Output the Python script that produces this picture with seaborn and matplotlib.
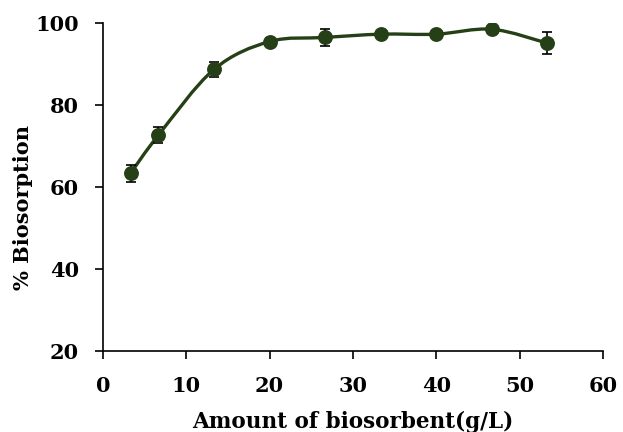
import numpy as np
import pandas as pd
import matplotlib
matplotlib.use("Agg")
import matplotlib.pyplot as plt
from matplotlib.path import Path
from matplotlib.patches import PathPatch
import seaborn as sns

# Dados
dose = [3.33, 6.67, 13.33, 20.0, 26.67, 33.33, 40.0, 46.67, 53.33]
biosorcao = [63.3, 72.6, 88.6, 95.4, 96.4, 97.2, 97.2, 98.4, 95.0]
erro = [2.0, 2.0, 1.8, 0.8, 2.1, 0.8, 0.8, 0.9, 2.7]

df = pd.DataFrame({"dose": dose, "bio": biosorcao, "err": erro})

sns.set_theme(style="ticks")
plt.rcParams['font.family'] = ['DejaVu Serif']
plt.rcParams['font.weight'] = 'bold'
plt.rcParams['text.color'] = 'black'
plt.rcParams['axes.labelcolor'] = 'black'

cor = "#253f16"

fig = plt.figure(figsize=(6.23, 4.32), dpi=100)
ax = fig.add_axes([0.165, 0.1875, 0.803, 0.76])

# Linha suavizada (estilo Excel, Catmull-Rom -> Bezier)
pts = df[["dose", "bio"]].to_numpy()
verts = [pts[0]]
codes = [Path.MOVETO]
for i in range(len(pts) - 1):
    p0 = pts[i - 1] if i > 0 else pts[i]
    p1 = pts[i]
    p2 = pts[i + 1]
    p3 = pts[i + 2] if i + 2 < len(pts) else pts[i + 1]
    c1 = p1 + (p2 - p0) / 6
    c2 = p2 - (p3 - p1) / 6
    verts += [c1, c2, p2]
    codes += [Path.CURVE4] * 3
ax.add_patch(PathPatch(Path(verts, codes), facecolor="none", edgecolor=cor, lw=2.4, zorder=2))

ax.errorbar(df["dose"], df["bio"], yerr=df["err"], fmt="none", ecolor="black",
            elinewidth=1.2, capsize=3.5, capthick=1.2, zorder=3)
sns.scatterplot(data=df, x="dose", y="bio", ax=ax, color=cor, s=115,
                edgecolor=cor, linewidth=0, zorder=4)

ax.set_xlim(0, 60)
ax.set_ylim(20, 100)
ax.set_xticks(range(0, 61, 10))
ax.set_yticks(range(20, 101, 20))
ax.tick_params(axis="both", direction="out", length=6, width=1.2,
               labelsize=15, colors="black")
ax.tick_params(axis="x", pad=12)
ax.tick_params(axis="y", pad=11)
for lab in ax.get_xticklabels() + ax.get_yticklabels():
    lab.set_fontweight("bold")

ax.set_xlabel("Amount of biosorbent(g/L)", fontsize=15.5, fontweight="bold")
ax.set_ylabel("% Biosorption", fontsize=15, fontweight="bold")
ax.xaxis.set_label_coords(0.5, -0.183)
ax.yaxis.set_label_coords(-0.14, 0.436)
for s in ["left", "bottom"]:
    ax.spines[s].set_linewidth(1.2)
    ax.spines[s].set_color("black")
sns.despine(ax=ax)

fig.savefig("out.png", dpi=100)
